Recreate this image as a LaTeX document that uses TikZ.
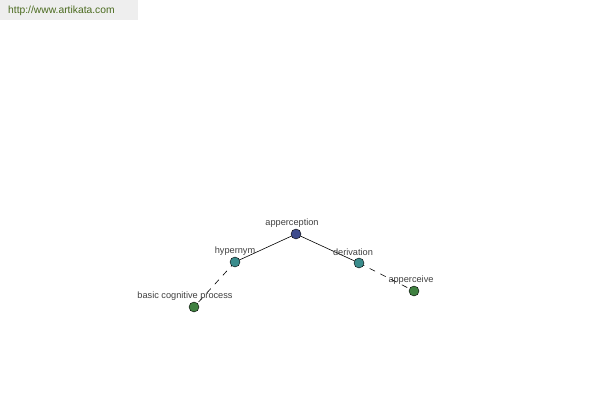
\documentclass[tikz,border=0pt]{standalone}
\usepackage{fontspec}
\setmainfont{Liberation Sans}
\definecolor{rootc}{HTML}{3D4A8C}
\definecolor{midc}{HTML}{3A8C8C}
\definecolor{leafc}{HTML}{3F8040}
\definecolor{txtc}{HTML}{404040}
\definecolor{hdrbg}{HTML}{EEEEEE}
\definecolor{hdrtx}{HTML}{4A6A1E}
\tikzset{
  dot/.style={circle,draw=black,line width=0.4pt,minimum size=10pt,inner sep=0pt},
  lbl/.style={font=\fontsize{9.2}{10}\selectfont,text=txtc,inner sep=0pt},
  edge/.style={line width=0.6pt,black},
  dedge/.style={line width=0.6pt,black,dash pattern=on 6pt off 6pt}
}
\begin{document}
\begin{tikzpicture}[x=1pt,y=-1pt]
\useasboundingbox (0,0) rectangle (600,400);
\fill[white] (0,0) rectangle (600,400);
\fill[hdrbg] (0,0) rectangle (138,20);
\node[font=\fontsize{10.3}{12}\selectfont,text=hdrtx,anchor=west,inner sep=0pt] (hdr) at (8,11) {http://www.artikata.com};
\coordinate (pa) at (296,234);
\coordinate (ph) at (235,262);
\coordinate (pd) at (359,263);
\coordinate (pb) at (194,307);
\coordinate (pv) at (414,291);
\draw[edge] (pa) -- (ph);
\draw[edge] (pa) -- (pd);
\draw[dedge] (ph) -- (pb);
\draw[dedge] (pd) -- (pv);
\node[dot,fill=rootc] (a) at (pa) {};
\node[dot,fill=midc] (h) at (ph) {};
\node[dot,fill=midc] (d) at (pd) {};
\node[dot,fill=leafc] (b) at (pb) {};
\node[dot,fill=leafc] (v) at (pv) {};
\node[lbl] (la) at (292,223) {apperception};
\node[lbl] (lh) at (235,251) {hypernym};
\node[lbl] (ld) at (353,252) {derivation};
\node[lbl] (lb) at (185,296) {basic cognitive process};
\node[lbl] (lv) at (411,280) {apperceive};
\end{tikzpicture}
\end{document}
